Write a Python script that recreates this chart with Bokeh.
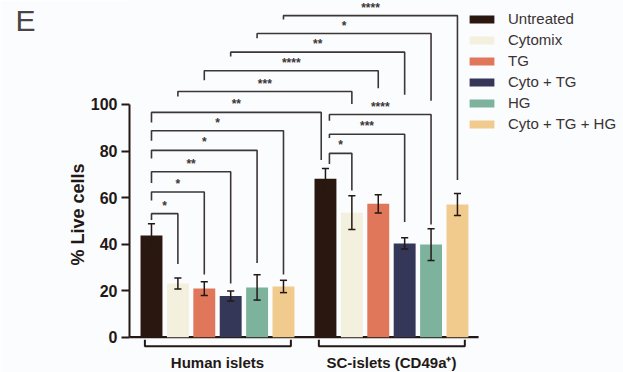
import math
from bokeh.plotting import figure
from bokeh.models import Range1d, Label, Legend, LegendItem, FixedTicker
from bokeh.embed import file_html
from bokeh.resources import INLINE
from bokeh.core.properties import value

# ---------------- data ----------------
conditions = ["Untreated", "Cytomix", "TG", "Cyto + TG", "HG", "Cyto + TG + HG"]
colors = ["#2a1810", "#f4f0de", "#e0775a", "#343757", "#7db39c", "#f1cb8d"]
groups = ["Human islets", "SC-islets (CD49a\u207a)"]
human_mean = [43.7, 23.1, 20.9, 17.7, 21.4, 21.8]
human_err = [5.0, 2.35, 2.95, 2.15, 5.45, 2.65]
sc_mean = [68.1, 53.5, 57.3, 40.3, 39.8, 57.0]
sc_err = [4.4, 7.25, 3.9, 2.45, 6.85, 4.75]
y_ticks = [0, 20, 40, 60, 80, 100]
y_label = "% Live cells"
panel_letter = "E"

# significance brackets: (bar a, bar b, bracket level, label, left leg end, right leg end)
# bars 0-5 = human islets, 6-11 = SC-islets
brackets = [
    (0, 1, 53.1, "*", 50.4, 31.5),
    (0, 2, 62.4, "*", 58.7, 26.9),
    (0, 3, 71.1, "**", 66.3, 23.1),
    (0, 4, 80.3, "*", 76.8, 31.9),
    (0, 5, 88.7, "*", 84.4, 26.9),
    (0, 6, 96.6, "**", 92.3, 76.1),
    (1, 7, 105.6, "***", 103.4, 100.2),
    (2, 8, 114.5, "****", 110.4, 107.0),
    (3, 9, 122.5, "**", 120.6, 104.2),
    (4, 10, 130.5, "*", 128.5, 101.6),
    (5, 11, 138.2, "****", 136.5, 67.6),
    (6, 7, 79.0, "*", 74.4, 63.0),
    (6, 9, 87.2, "***", 85.6, 49.5),
    (6, 10, 95.7, "****", 93.0, 48.4),
]

# ---------------- layout ----------------
GAP = 0.59
BAR_W = 0.83
n = len(conditions)
pos = [g * (n + GAP) + i for g in range(2) for i in range(n)]
means = human_mean + sc_mean
errs = human_err + sc_err
lo = [m - e for m, e in zip(means, errs)]
hi = [m + e for m, e in zip(means, errs)]

FONT = "Liberation Sans"
INK = "#231815"
LINE = "#3d3636"
BG = "#fafcfe"

p = figure(width=623, height=372, output_backend="svg", toolbar_location=None,
           x_range=Range1d(-0.833, 17.88), y_range=Range1d(-15.17, 144.69),
           x_axis_location=None, min_border_left=129, min_border_right=0,
           min_border_top=0, min_border_bottom=0)
p.background_fill_color = BG
p.border_fill_color = BG
p.outline_line_color = None
p.grid.visible = False

# y axis
ax = p.yaxis[0]
ax.ticker = FixedTicker(ticks=y_ticks)
ax.bounds = (0, 100)
ax.axis_line_width = 2
ax.axis_line_color = INK
ax.major_tick_line_width = 2
ax.major_tick_line_color = INK
ax.major_tick_out = 8
ax.major_tick_in = 0
ax.minor_tick_line_color = None
ax.major_label_text_font = FONT
ax.major_label_text_font_size = "16px"
ax.major_label_text_font_style = "bold"
ax.major_label_text_color = INK
ax.major_label_standoff = 4

# y axis title, centred on the 0-100 span
p.add_layout(Label(x=-2.765, y=(y_ticks[0] + y_ticks[-1]) / 2 + 2.7, text=y_label,
                   angle=math.pi / 2, text_align="center", text_baseline="middle",
                   text_font=FONT, text_font_size="18px", text_font_style="bold",
                   text_color=INK), "left")

# baseline (x axis line)
p.segment(x0=[p.x_range.start], y0=[0], x1=[pos[-1] + 0.8], y1=[0],
          line_color=INK, line_width=2.2)

# bars, one renderer per condition
legend_items = []
for i, (cond, col) in enumerate(zip(conditions, colors)):
    xs = [pos[i], pos[n + i]]
    ys = [means[i], means[n + i]]
    r = p.vbar(x=xs, top=ys, bottom=0, width=BAR_W, fill_color=col, line_color=None)
    legend_items.append(LegendItem(label=cond, renderers=[r]))

# error bars
cap = 0.135
p.segment(x0=pos, x1=pos, y0=lo, y1=hi, line_color=INK, line_width=1.5)
p.segment(x0=[x - cap for x in pos] * 2, x1=[x + cap for x in pos] * 2,
          y0=lo + hi, y1=lo + hi, line_color=INK, line_width=1.5)

# significance brackets
bxs, bys, sx, sy, st = [], [], [], [], []
for a, b, lvl, lab, le, re in brackets:
    xl = pos[a] + (0.15 if (a == n and b > n) else 0)
    xr = pos[b] - (0.16 if (b == n and a < n) else 0)
    bxs.append([xl, xl, xr, xr])
    bys.append([le, lvl, lvl, re])
    sx.append((xl + xr) / 2)
    sy.append(lvl + 3.4)
    st.append(lab)
p.multi_line(xs=bxs, ys=bys, line_color=LINE, line_width=1.6)
p.text(x=sx, y=sy, text=st, text_align="center", text_baseline="alphabetic",
       text_font=value(FONT), text_font_size="12px", text_font_style="bold",
       text_color=LINE)

# group brackets and labels
gx, gy, lx = [], [], []
for g in range(2):
    x0 = pos[g * n] - 0.25
    x1 = pos[g * n + n - 1] + 0.28
    gx.append([x0, x0, x1, x1])
    gy.append([-1.1, -3.87, -3.87, -1.1])
    lx.append((pos[g * n] + pos[g * n + n - 1]) / 2)
p.multi_line(xs=gx, ys=gy, line_color=INK, line_width=2)
p.text(x=lx, y=[-11.0, -11.0], text=groups, text_align="center",
       text_baseline="alphabetic", text_font=value(FONT), text_font_size="15px",
       text_font_style="bold", text_color=INK)

# panel letter
p.add_layout(Label(x=-5.15, y=136.1, text=panel_letter, text_font=FONT,
                   text_font_size="30px", text_color="#4a4444",
                   text_baseline="alphabetic"), "left")

# legend
legend = Legend(items=legend_items, location=(337, 238), orientation="vertical",
                glyph_width=31, glyph_height=10, label_height=21, spacing=0,
                padding=0, margin=0, label_standoff=11,
                label_text_font=FONT, label_text_font_size="15px",
                label_text_color="#3b3333", border_line_color=None,
                background_fill_alpha=0)
p.add_layout(legend, "center")

open("out.html", "w").write(file_html(p, INLINE))
